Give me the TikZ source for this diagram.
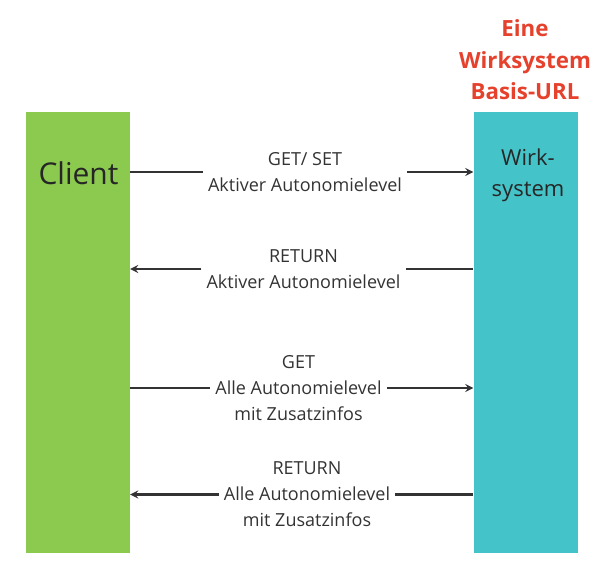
\documentclass[tikz,border=0pt]{standalone}
\usepackage{fontspec}
\setmainfont{Open Sans}
\usepackage{tikz}
\usepackage{color}
\definecolor{clientgreen}{HTML}{8CC94F}
\definecolor{wirkcyan}{HTML}{44C4C9}
\definecolor{urlred}{HTML}{E5412C}
\definecolor{linegray}{HTML}{333333}

\begin{document}
\begin{tikzpicture}[x=1pt,y=-1pt,>=stealth,
  bar/.style={draw=none,minimum width=104pt,minimum height=441pt,inner sep=0pt},
  msg/.style={align=center,inner xsep=5pt,font=\fontsize{18}{26}\selectfont,text=linegray},
  conn/.style={draw=linegray,line width=2.5pt}]
\useasboundingbox (0,0) rectangle (605,576);
% die beiden Seiten
\node[bar,fill=clientgreen] (client) at (78,332.5) {};
\node[bar,fill=wirkcyan] (wirk) at (525.5,332.5) {};
\node[font=\fontsize{30}{34}\selectfont,text=black!85] (clientname) at (78.5,173) {Client};
\node[align=center,font=\fontsize{22}{31}\selectfont,text=black!85] (wirkname) at (528,175) {Wirk-\\system};
\node[align=center,font=\bfseries\fontsize{22.3}{31.5}\selectfont,text=urlred] (url) at (525,60) {Eine\\Wirksystem\\Basis-URL};
% Nachrichten
\node[msg] (getset) at (305,172) {GET/ SET\\Aktiver Autonomielevel};
\node[msg] (ret) at (303.5,269) {RETURN\\Aktiver Autonomielevel};
\node[msg] (getall) at (298.5,388) {GET\\Alle Autonomielevel\\mit Zusatzinfos};
\node[msg] (retall) at (307,494.5) {RETURN\\Alle Autonomielevel\\mit Zusatzinfos};
\draw[conn] (getset.west -| client.east) -- (getset.west);
\draw[conn,->] (getset.east) -- (getset.east -| wirk.west);
\draw[conn,->] (ret.west) -- (ret.west -| client.east);
\draw[conn] (ret.east -| wirk.west) -- (ret.east);
\draw[conn] (getall.west -| client.east) -- (getall.west);
\draw[conn,->] (getall.east) -- (getall.east -| wirk.west);
\draw[conn,->] (retall.west) -- (retall.west -| client.east);
\draw[conn] (retall.east -| wirk.west) -- (retall.east);
\end{tikzpicture}
\end{document}
